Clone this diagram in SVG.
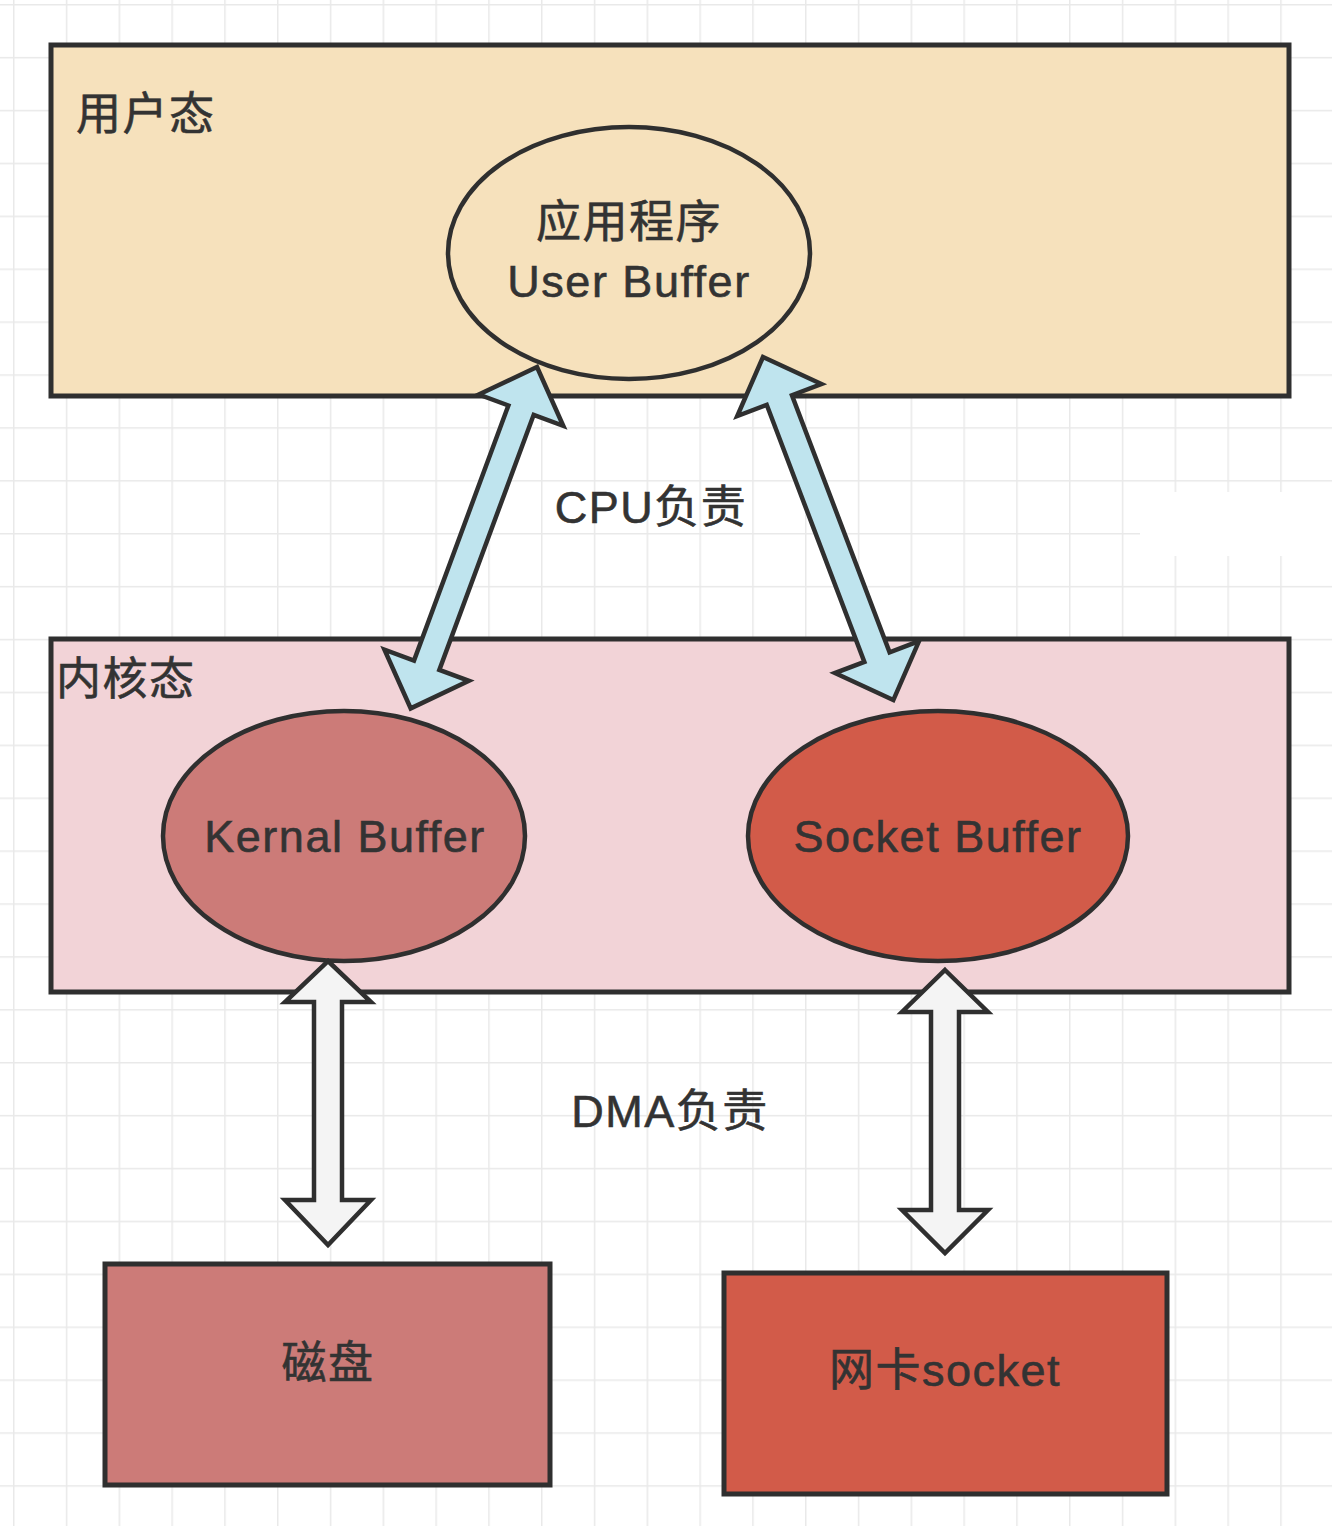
<svg xmlns="http://www.w3.org/2000/svg" width="1332" height="1526" viewBox="0 0 1332 1526">
<defs>
<pattern id="grid" x="13" y="4" width="52.8" height="52.9" patternUnits="userSpaceOnUse">
<path d="M0 0V52.9M0 0H52.8" fill="none" stroke="#e9e9e9" stroke-width="3"/>
</pattern>
<style>
.box{stroke:#2f2f2f;stroke-width:5}
.ell{stroke:#2f2f2f;stroke-width:4.5}
.arr{stroke:#2f2f2f;stroke-width:4.5;stroke-linejoin:miter}
.cpu{fill:#bfe4ee}
.dma{fill:#f4f4f4}
text{font-family:"Liberation Sans","Noto Sans CJK SC",sans-serif;fill:#333;stroke:#333;stroke-width:0.6}
.lbl{font-size:45px;letter-spacing:1.5px}
.mid{text-anchor:middle}
</style>
</defs>
<rect width="1332" height="1526" fill="#ffffff"/>
<rect width="1332" height="1526" fill="url(#grid)"/>
<rect x="1140" y="492" width="192" height="64" fill="#ffffff"/>

<g id="user-space">
<rect class="box" x="51" y="45" width="1238" height="351" fill="#f6e1bc"/>
<text class="lbl" x="76" y="130">用户态</text>
</g>
<g id="kernel-space">
<rect class="box" x="51" y="639" width="1238" height="353" fill="#f2d3d7"/>
<text class="lbl" x="56" y="695">内核态</text>
</g>
<g id="app">
<ellipse class="ell" cx="629" cy="253" rx="181" ry="126" fill="#f6e1bc"/>
<text class="lbl mid" x="629" y="238">应用程序</text>
<text class="lbl mid" x="629" y="297">User Buffer</text>
</g>
<g id="kernal-buffer">
<ellipse class="ell" cx="344" cy="836" rx="181" ry="125" fill="#cc7b78"/>
<text class="lbl mid" x="345" y="852">Kernal Buffer</text>
</g>
<g id="socket-buffer">
<ellipse class="ell" cx="938" cy="836" rx="190" ry="125" fill="#d25b49"/>
<text class="lbl mid" x="938" y="852">Socket Buffer</text>
</g>
<g id="disk">
<rect class="box" x="105" y="1264" width="445" height="221" fill="#cc7b78"/>
<text class="lbl mid" x="328" y="1379">磁盘</text>
</g>
<g id="nic">
<rect class="box" x="724" y="1273" width="443" height="221" fill="#d25b49"/>
<text class="lbl mid" x="945" y="1386">网卡socket</text>
</g>

<g id="connectors">
<polygon class="arr cpu" transform="translate(537 367) rotate(110.3)" points="0,0 46,-45 46,-13.5 318,-13.5 318,-45 364,0 318,45 318,13.5 46,13.5 46,45"/>
<polygon class="arr cpu" transform="translate(763 357) rotate(69.2)" points="0,0 46,-45 46,-13.5 321,-13.5 321,-45 367,0 321,45 321,13.5 46,13.5 46,45"/>
<polygon class="arr dma" points="328,961 371,1002 342,1002 342,1200 371,1200 328,1245 285,1200 314,1200 314,1002 285,1002"/>
<polygon class="arr dma" points="945,970 988,1012 959,1012 959,1210 988,1210 945,1253 902,1210 931,1210 931,1012 902,1012"/>
<text class="lbl mid" x="651" y="523">CPU负责</text>
<text class="lbl mid" x="670" y="1127">DMA负责</text>
</g>
</svg>
